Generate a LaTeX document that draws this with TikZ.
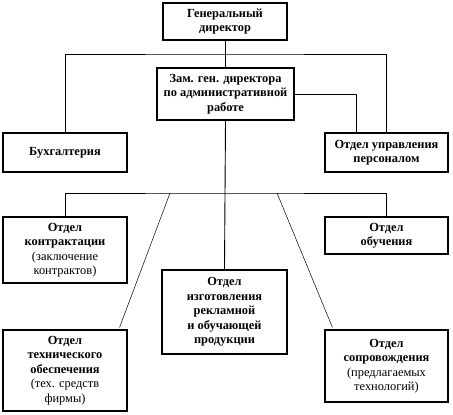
\documentclass[tikz,border=0pt]{standalone}
\usepackage{fontspec}
\setmainfont{Liberation Serif}
\usepackage{tikz}

\begin{document}
\begin{tikzpicture}[x=1pt, y=-1pt,
		box/.style={draw, line width=1.1pt, align=center, inner sep=0pt,
			font=\fontsize{12.4}{14.5}\selectfont\bfseries},
		link/.style={line width=0.9pt},
		thin link/.style={line width=0.5pt}]
		\useasboundingbox (0,0) rectangle (453,415);

		\node[box, minimum width=124, minimum height=37] (gd) at (225, 21.5) {Генеральный\\директор};
		\node[box, minimum width=137, minimum height=52] (zam) at (225.5, 94) {Зам. ген. директора\\по административной\\работе};
		\node[box, minimum width=124, minimum height=39] (buh) at (65, 152.5) {Бухгалтерия};
		\node[box, minimum width=123, minimum height=39] (kadr) at (386.5, 152.5) {Отдел управления\\персоналом};

		\node[box, minimum width=124, minimum height=66] (kontr) at (65, 250) {Отдел\\контрактации\\{\mdseries (заключение}\\{\mdseries контрактов)}};
		\node[box, minimum width=123, minimum height=37] (obuch) at (386.5, 235.5) {Отдел\\обучения};
		\node[box, minimum width=125, minimum height=84] (izg) at (224.5, 312) {Отдел\\изготовления\\рекламной\\и обучающей\\продукции};
		\node[box, minimum width=124, minimum height=81] (tech) at (65, 370.5) {Отдел\\технического\\обеспечения\\{\mdseries (тех. средств}\\{\mdseries фирмы)}};
		\node[box, minimum width=123, minimum height=72] (sopr) at (386.5, 366) {Отдел\\сопровождения\\{\mdseries (предлагаемых}\\{\mdseries технологий)}};

		\coordinate (top) at (224, 54);
		\coordinate (bus) at (224, 193);
		\coordinate (bl) at (170, 193);
		\coordinate (br) at (277, 193);

		\draw[link] (gd.south) -- (gd.south |- zam.north);
		\draw[link] (buh.north) |- (top) -| (kadr.north);
		\draw[link] (zam.east) -| ([xshift=-30pt]kadr.north);
		\draw[link] (zam.south) -- (izg.north);
		\draw[link] (kontr.north) |- (bus) -| (obuch.north);
		\draw[thin link] (bl) -- ([xshift=-8pt, yshift=2pt]tech.north east);
		\draw[thin link] (br) -- ([xshift=8pt, yshift=2pt]sopr.north west);
	\end{tikzpicture}
\end{document}
